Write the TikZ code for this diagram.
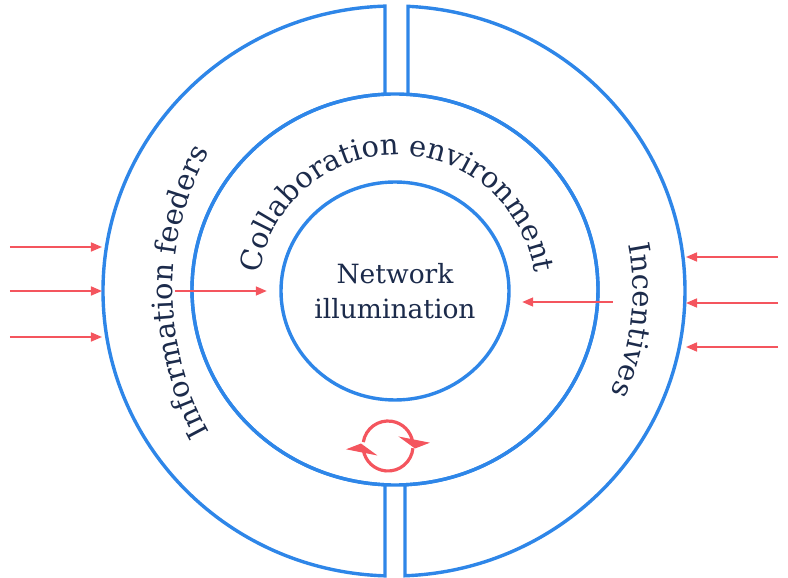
\documentclass[tikz,border=0pt]{standalone}
\usepackage{fontspec}
\setmainfont{DejaVu Serif}
\usetikzlibrary{arrows.meta,decorations.text,shapes.geometric}
\definecolor{ringblue}{HTML}{2E86E8}
\definecolor{feedred}{HTML}{F4555E}
\definecolor{ink}{HTML}{1C2B4B}
\tikzset{
	ring/.style={draw=ringblue, line width=3.4pt},
	feed/.style={draw=feedred, line width=1.6pt, -{Triangle[length=11pt,width=9pt]}},
	spinline/.style={draw=feedred, line width=3.2pt},
	arctext/.style={decorate, decoration={text along path, text color=ink, text align=center, text={#1}}}
}
\def\arcfont{\fontsize{29}{29}\selectfont}

\begin{document}
\begin{tikzpicture}[x=1pt, y=1pt]
			%%%%% START %%%%%
			\useasboundingbox (-394,-287) rectangle (394,291);
			
			% outer halves
			\draw[ring] (-9,284.86) arc[start angle=91.772, end angle=268.228, x radius=291, y radius=285] -- (-9,-193.76) arc[start angle=267.176, end angle=92.824, x radius=203, y radius=195.5] -- cycle;
			\draw[ring] (14,284.67) arc[start angle=87.243, end angle=-87.834, x radius=291, y radius=285] -- (11,-193.76) arc[start angle=-87.176, end angle=86.328, x radius=203, y radius=195.5] -- cycle;
			
			\node[ring, ellipse, minimum width=406pt, minimum height=391pt] (env) at (1,1.5) {};
			\node[ring, ellipse, minimum width=228pt, minimum height=218pt] (core) at (1,0) {};
			\node[text=ink, align=center, font=\fontsize{26.5}{35}\selectfont] (coretext) at (1,-0.5) {Network\\illumination};
			
			\path[arctext={|\arcfont|Information feeders}] (69,-1) ++(212:290) arc (212:148:290);
			\path[arctext={|\arcfont|Collaboration environment}] (3,-3) ++(177:139) arc (177:3:139);
			\path[arctext={|\arcfont|Incentives}] (0,0) ++(22:239) arc (22:-36:239);
			
			% arrows in from the left
			\coordinate (srcL1) at (-384,44);
			\coordinate (srcL2) at (-384,0);
			\coordinate (srcL3) at (-384,-46);
			\coordinate (tipL1) at (-292,44);
			\coordinate (tipL2) at (-292,0);
			\coordinate (tipL3) at (-292,-46);
			\draw[feed] (srcL1) -- (tipL1);
			\draw[feed] (srcL2) -- (tipL2);
			\draw[feed] (srcL3) -- (tipL3);
			
			% arrows in from the right
			\coordinate (srcR1) at (384,34);
			\coordinate (srcR2) at (384,-12);
			\coordinate (srcR3) at (384,-56);
			\coordinate (tipR1) at (292,34);
			\coordinate (tipR2) at (292,-12);
			\coordinate (tipR3) at (292,-56);
			\draw[feed] (srcR1) -- (tipR1);
			\draw[feed] (srcR2) -- (tipR2);
			\draw[feed] (srcR3) -- (tipR3);
			
			\coordinate (fdL) at (-219,0);
			\coordinate (fdR) at (219,-11);
			\draw[feed, shorten >=12.5pt] (fdL) -- (core.west);
			\draw[feed, shorten >=11.5pt] (fdR) -- (fdR -| core.east);
			
			% spin icon
			\coordinate (spin) at (-6,-155);
			\draw[spinline] (spin) ++(171:25) arc (171:9:25);
			\draw[spinline] (spin) ++(-5:25) arc (-5:-171:25);
			\fill[feedred, shift={(spin)}] (10.5,9.5) -- (42,3.3) -- (27,-2.5) -- cycle;
			\fill[feedred, shift={(spin)}] (-10.5,-9.5) -- (-42,-3.3) -- (-27,2.5) -- cycle;
			
			%%%%% END %%%%%
\end{tikzpicture}
\end{document}
